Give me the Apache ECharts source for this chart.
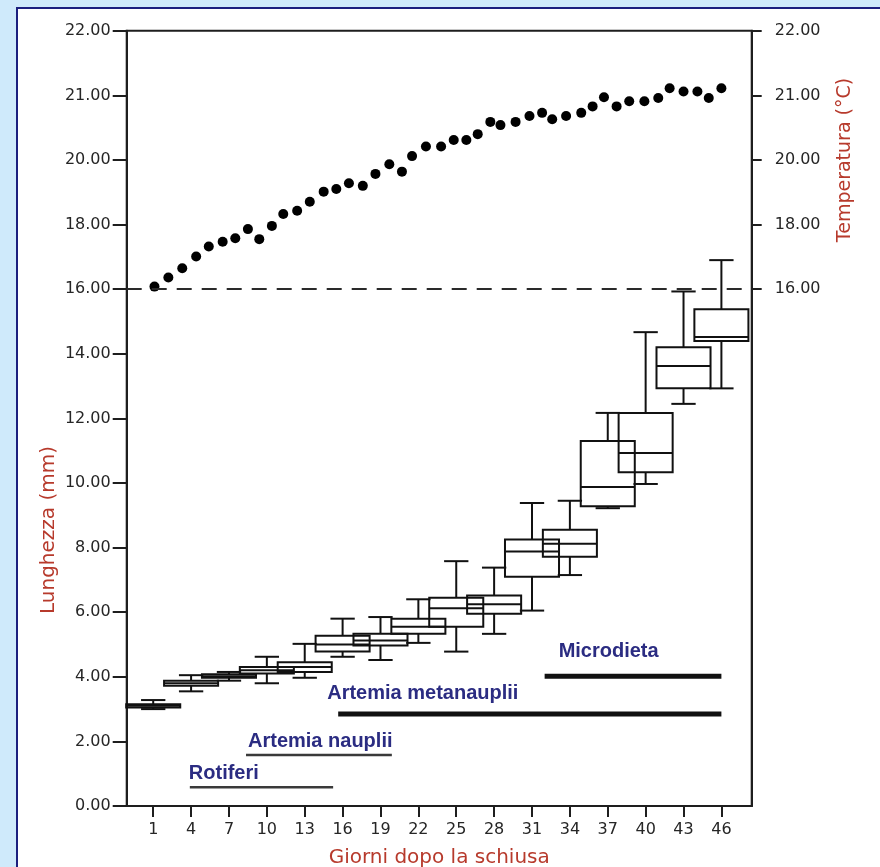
<!DOCTYPE html>
<html><head><meta charset="utf-8">
<script src="https://cdn.jsdelivr.net/npm/echarts@6/dist/echarts.min.js"></script>
<style>
html,body{margin:0;padding:0;width:880px;height:867px;overflow:hidden;background:#cfeafb;}
#frame{position:absolute;left:16px;top:7px;width:900px;height:900px;background:#fff;border-left:2px solid #1b1f7e;border-top:2px solid #1b1f7e;}
#chart{position:absolute;left:0;top:0;width:880px;height:867px;}
</style></head><body><div id="frame"></div><div id="chart"></div>
<script>
// ---- data ----
const days = [1,4,7,10,13,16,19,22,25,28,31,34,37,40,43,46];
const lowWhisker  = [3.00,3.55,3.88,3.80,3.97,4.62,4.52,5.05,4.78,5.33,6.05,7.15,9.22,9.97,12.45,12.93];
const q1          = [3.05,3.72,3.97,4.10,4.15,4.78,4.97,5.33,5.55,5.95,7.10,7.72,9.28,10.33,12.93,14.40];
const median      = [3.10,3.80,4.02,4.20,4.30,5.00,5.12,5.55,6.12,6.25,7.88,8.12,9.88,10.93,13.62,14.52];
const q3          = [3.15,3.88,4.08,4.30,4.45,5.27,5.33,5.80,6.45,6.52,8.25,8.55,11.30,12.17,14.20,15.38];
const highWhisker = [3.28,4.05,4.15,4.62,5.02,5.80,5.85,6.40,7.58,7.38,9.38,9.45,12.17,14.67,15.93,16.90];

const tempDays = [1.1,2.2,3.3,4.4,5.4,6.5,7.5,8.5,9.4,10.4,11.3,12.4,13.4,14.5,15.5,16.5,17.6,18.6,19.7,20.7,
  21.5,22.6,23.8,24.8,25.8,26.7,27.7,28.5,29.7,30.8,31.8,32.6,33.7,34.9,35.8,36.7,37.7,38.7,39.9,41.0,
  41.9,43.0,44.1,45.0,46.0];
const tempValues = [16.08,16.36,16.65,17.01,17.32,17.47,17.58,17.86,17.55,17.96,18.33,18.43,18.71,19.02,19.10,
  19.28,19.20,19.57,19.87,19.64,20.06,20.21,20.21,20.31,20.31,20.40,20.59,20.54,20.59,20.68,20.73,20.63,
  20.68,20.73,20.83,20.97,20.83,20.91,20.91,20.96,21.11,21.06,21.06,20.96,21.11];

const feedNames  = ['Rotiferi','Artemia nauplii','Artemia metanauplii','Microdieta'];
const feedStart  = [3.9, 8.35, 15.65, 32.0];
const feedEnd    = [15.25, 19.9, 46.0, 46.0];
const feedLevel  = [0.58, 1.58, 2.85, 4.02];

const scaleTicks = [0,2,4,6,8,10,12,14,16,18,20,21,22];   // tick labels, evenly spaced on the axis
const tempTickStart = 16;                                  // right axis shows ticks from 16.00
const referenceLevel = 16;                                 // dashed line
const dayTicks = days;

// ---- axis mapping (evenly spaced labelled ticks) ----
function toAxis(v){
  const t = scaleTicks;
  let i = 0;
  while (i < t.length - 2 && v > t[i+1]) i++;
  return 2 * (i + (v - t[i]) / (t[i+1] - t[i]));
}
function labelFor(pos){
  const i = Math.round(pos / 2);
  return scaleTicks[i] !== undefined ? scaleTicks[i].toFixed(2) : '';
}
const rightTickPos = scaleTicks.filter(v => v >= tempTickStart).map(toAxis);

// ---- styles ----
const AX = '#1e1e1e', LBL = '#262626', NAME = '#b73a2c', NAVY = '#2b2c82';
const BOX_W = 4.28, CAP_FRAC = 0.45;
const feedStyle = [
  {w:2.5, c:'#3a3a3a', dx:-1, dy:-14},
  {w:2.5, c:'#3a3a3a', dx:2,  dy:-13},
  {w:5,   c:'#111',    dx:-11,dy:-20},
  {w:5,   c:'#111',    dx:14, dy:-25}
];

const chart = echarts.init(document.getElementById('chart'), null, {renderer:'canvas'});
const font = 'DejaVu Sans';

chart.setOption({
  animation:false,
  backgroundColor:'transparent',
  textStyle:{fontFamily:font},
  grid:{left:126.7, right:128.3, top:30.8, bottom:61, show:true, borderColor:AX, borderWidth:2,
        backgroundColor:'transparent', containLabel:false, outerBoundsMode:'none'},
  xAxis:{
    type:'value', min:-1.1, max:48.4,
    axisLine:{show:true, onZero:false, lineStyle:{color:AX, width:2}},
    axisTick:{show:true, customValues:dayTicks, length:11, lineStyle:{color:AX, width:2}},
    axisLabel:{show:true, customValues:dayTicks, margin:16, color:LBL, fontSize:16, fontFamily:font},
    splitLine:{show:false},
    name:'Giorni dopo la schiusa', nameLocation:'middle', nameGap:42,
    nameTextStyle:{color:NAME, fontSize:20, fontFamily:font}
  },
  yAxis:[
    {type:'value', position:'left', min:0, max:24, interval:2,
     axisLine:{show:true, onZero:false, lineStyle:{color:AX, width:2}},
     axisTick:{show:true, length:14, lineStyle:{color:AX, width:2}},
     axisLabel:{margin:16, color:LBL, fontSize:16, fontFamily:font, formatter:v => labelFor(v)},
     splitLine:{show:false}},
    {type:'value', position:'right', min:0, max:24, interval:2,
     axisLine:{show:true, onZero:false, lineStyle:{color:AX, width:2}},
     axisTick:{show:true, length:10, customValues:rightTickPos, lineStyle:{color:AX, width:2}},
     axisLabel:{margin:23, color:LBL, fontSize:16, fontFamily:font, customValues:rightTickPos, formatter:v => labelFor(v)},
     splitLine:{show:false}}
  ],
  graphic:[
    {type:'text', x:49, y:530, rotation:Math.PI/2,
     style:{text:'Lunghezza (mm)', fill:NAME, font:'20px "DejaVu Sans"', textAlign:'center', textVerticalAlign:'middle'}},
    {type:'text', x:845, y:160, rotation:Math.PI/2,
     style:{text:'Temperatura (°C)', fill:NAME, font:'19px "DejaVu Sans"', textAlign:'center', textVerticalAlign:'middle'}}
  ],
  series:[
    {
      type:'scatter', name:'Temperatura', yAxisIndex:0, symbol:'circle', symbolSize:10,
      itemStyle:{color:'#000', opacity:1}, z:4,
      data: tempDays.map((d,i) => [d, toAxis(tempValues[i])]),
      markLine:{silent:true, symbol:['none','none'], label:{show:false},
        lineStyle:{type:[15,10], color:'#2a2a2a', width:2},
        data:[{yAxis: toAxis(referenceLevel)}]}
    },
    {
      type:'custom', name:'Lunghezza', yAxisIndex:0, z:3,
      data: days.map((d,i) => [d, toAxis(lowWhisker[i]), toAxis(q1[i]), toAxis(median[i]), toAxis(q3[i]), toAxis(highWhisker[i])]),
      encode:{x:0, y:[1,2,3,4,5]},
      renderItem:(params, api) => {
        const x = api.value(0);
        const pLo = api.coord([x, api.value(1)]);
        const pQ1 = api.coord([x, api.value(2)]);
        const pMd = api.coord([x, api.value(3)]);
        const pQ3 = api.coord([x, api.value(4)]);
        const pHi = api.coord([x, api.value(5)]);
        const hw = api.size([BOX_W, 0])[0] / 2;
        const cw = hw * CAP_FRAC;
        const cx = pMd[0];
        const st = {stroke:'#111', lineWidth:2, fill:null};
        return {type:'group', children:[
          {type:'line', shape:{x1:cx, y1:pQ3[1], x2:cx, y2:pHi[1]}, style:st},
          {type:'line', shape:{x1:cx, y1:pQ1[1], x2:cx, y2:pLo[1]}, style:st},
          {type:'line', shape:{x1:cx-cw, y1:pHi[1], x2:cx+cw, y2:pHi[1]}, style:st},
          {type:'line', shape:{x1:cx-cw, y1:pLo[1], x2:cx+cw, y2:pLo[1]}, style:st},
          {type:'rect', shape:{x:cx-hw, y:pQ3[1], width:2*hw, height:pQ1[1]-pQ3[1]}, style:{stroke:'#111', lineWidth:2, fill:'none'}},
          {type:'line', shape:{x1:cx-hw, y1:pMd[1], x2:cx+hw, y2:pMd[1]}, style:st}
        ]};
      }
    },
    {
      type:'custom', name:'Alimentazione', yAxisIndex:0, z:2,
      data: feedNames.map((n,i) => [feedStart[i], feedEnd[i], toAxis(feedLevel[i]), i]),
      encode:{x:[0,1], y:2},
      renderItem:(params, api) => {
        const i = api.value(3);
        const p1 = api.coord([api.value(0), api.value(2)]);
        const p2 = api.coord([api.value(1), api.value(2)]);
        const s = feedStyle[i];
        return {type:'group', children:[
          {type:'line', shape:{x1:p1[0], y1:p1[1], x2:p2[0], y2:p2[1]}, style:{stroke:s.c, lineWidth:s.w}},
          {type:'text', x:p1[0]+s.dx, y:p1[1]+s.dy,
           style:{text:feedNames[i], fill:NAVY, font:'bold 20px "Liberation Sans"', textAlign:'left', textVerticalAlign:'middle'}}
        ]};
      }
    }
  ]
});
</script>
</body></html>
